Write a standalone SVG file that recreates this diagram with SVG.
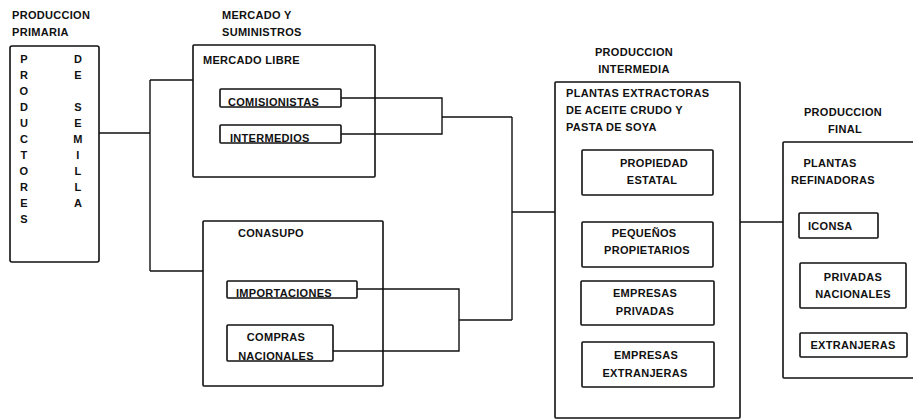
<svg xmlns="http://www.w3.org/2000/svg" width="913" height="420" viewBox="0 0 913 420">
<style>
.b{fill:none;stroke:#111;stroke-width:1.6}
.c{fill:none;stroke:#111;stroke-width:1.4}
text{font-family:"Liberation Sans",Arial,sans-serif;font-weight:bold;font-size:11px;fill:#111;letter-spacing:0.3px}
.m{text-anchor:middle}
</style>
<rect width="913" height="420" fill="#fff"/>
<g id="primaria">
<text x="12" y="19">PRODUCCION</text>
<text x="12" y="36">PRIMARIA</text>
<rect class="b" x="10" y="46" width="89" height="216" rx="2"/>
<g class="m">
<text x="24" y="63">P</text><text x="24" y="79">R</text><text x="24" y="95">O</text><text x="24" y="111">D</text><text x="24" y="127">U</text><text x="24" y="143">C</text><text x="24" y="159">T</text><text x="24" y="175">O</text><text x="24" y="191">R</text><text x="24" y="207">E</text><text x="24" y="223">S</text>
<text x="78" y="63">D</text><text x="78" y="79">E</text><text x="78" y="111">S</text><text x="78" y="127">E</text><text x="78" y="143">M</text><text x="78" y="159">I</text><text x="78" y="175">L</text><text x="78" y="191">L</text><text x="78" y="207">A</text>
</g>
</g>
<g id="mercado">
<text x="222" y="19">MERCADO Y</text>
<text x="222" y="36">SUMINISTROS</text>
<rect class="b" x="193" y="45" width="182" height="132" rx="1"/>
<text x="203" y="64">MERCADO LIBRE</text>
</g>
<g id="comisionistas">
<rect class="b" x="220" y="89" width="121" height="18" rx="1"/>
<text x="228" y="106">COMISIONISTAS</text>
</g>
<g id="intermedios">
<rect class="b" x="220" y="125" width="121" height="18" rx="1"/>
<text x="230" y="142">INTERMEDIOS</text>
</g>
<g id="conasupo">
<rect class="b" x="203" y="221" width="180" height="165" rx="1"/>
<text x="238" y="237">CONASUPO</text>
</g>
<g id="importaciones">
<rect class="b" x="227" y="281" width="130" height="17" rx="1"/>
<text x="236" y="297">IMPORTACIONES</text>
</g>
<g id="compras">
<rect class="b" x="227" y="325" width="106" height="36" rx="1"/>
<text class="m" x="276" y="341">COMPRAS</text>
<text class="m" x="276" y="360">NACIONALES</text>
</g>
<g id="intermedia">
<text class="m" x="634" y="56">PRODUCCION</text>
<text class="m" x="634" y="73">INTERMEDIA</text>
<rect class="b" x="555" y="82" width="185" height="336" rx="1"/>
<text x="566" y="97">PLANTAS EXTRACTORAS</text>
<text x="566" y="114">DE ACEITE CRUDO Y</text>
<text x="566" y="131">PASTA DE SOYA</text>
</g>
<g id="estatal">
<rect class="b" x="582" y="150" width="131" height="45" rx="1"/>
<text class="m" x="654" y="167">PROPIEDAD</text>
<text class="m" x="652" y="184">ESTATAL</text>
</g>
<g id="pequenos">
<rect class="b" x="582" y="222" width="131" height="45" rx="1"/>
<text class="m" x="644" y="237">PEQUEÑOS</text>
<text class="m" x="647" y="254">PROPIETARIOS</text>
</g>
<g id="privadas">
<rect class="b" x="581" y="281" width="133" height="44" rx="1"/>
<text class="m" x="645" y="297">EMPRESAS</text>
<text class="m" x="645" y="315">PRIVADAS</text>
</g>
<g id="extranjeras">
<rect class="b" x="582" y="342" width="132" height="45" rx="1"/>
<text class="m" x="646" y="359">EMPRESAS</text>
<text class="m" x="645" y="377">EXTRANJERAS</text>
</g>
<g id="final">
<text class="m" x="843" y="116">PRODUCCION</text>
<text class="m" x="845" y="133">FINAL</text>
<rect class="b" x="783" y="142" width="134" height="236" rx="1"/>
<text class="m" x="830" y="167">PLANTAS</text>
<text class="m" x="833" y="184">REFINADORAS</text>
</g>
<g id="iconsa">
<rect class="b" x="799" y="213" width="79" height="25" rx="1"/>
<text x="808" y="230">ICONSA</text>
</g>
<g id="privadas-nac">
<rect class="b" x="800" y="263" width="106" height="45" rx="1"/>
<text class="m" x="853" y="281">PRIVADAS</text>
<text class="m" x="853" y="298">NACIONALES</text>
</g>
<g id="extranjeras-final">
<rect class="b" x="800" y="333" width="107" height="24" rx="1"/>
<text class="m" x="853" y="349">EXTRANJERAS</text>
</g>
<g id="connectors" class="c">
<path d="M99 133H150M150 80V271M150 80H193M150 271H203"/>
<path d="M341 98H442V134H341M442 117H512"/>
<path d="M357 289H459V351H333M459 320H512"/>
<path d="M512 117V320M512 212H555"/>
<path d="M740 222H783"/>
</g>
</svg>
